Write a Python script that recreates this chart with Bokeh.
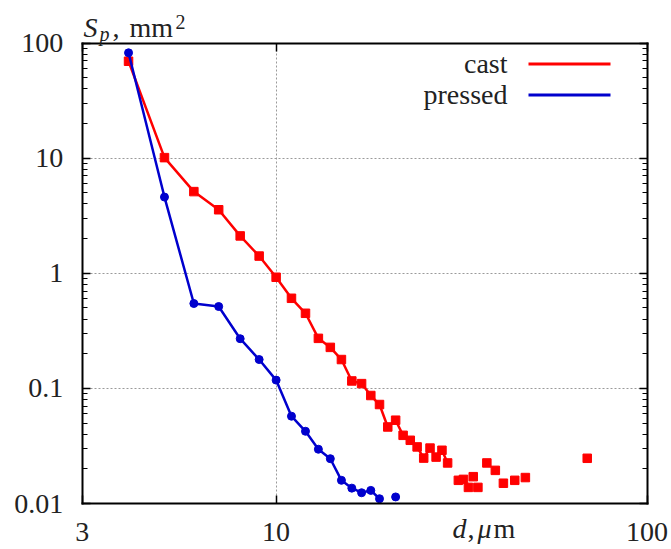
import math
from bokeh.plotting import figure
from bokeh.models import LogAxis, FixedTicker, Label, Arrow, Grid
from bokeh.embed import file_html
from bokeh.resources import INLINE

# ---------------- data ----------------
cast_d = [4, 5, 6, 7, 8, 9, 10, 11, 12, 13, 14, 15, 16, 17, 18, 19, 20, 21, 22, 23,
          24, 25, 26, 27, 28, 29, 31, 32, 33, 34, 35, 37, 39, 41, 44, 47, 69]
cast_S = [69.4, 10.1, 5.12, 3.56, 2.11, 1.41, 0.923, 0.606, 0.449, 0.272, 0.227, 0.178,
          0.116, 0.110, 0.0867, 0.0724, 0.0462, 0.0529, 0.0391, 0.0354, 0.0310, 0.0248,
          0.0303, 0.0253, 0.0290, 0.0225, 0.0159, 0.0162, 0.0138, 0.0171, 0.0138, 0.0225,
          0.0194, 0.0150, 0.0159, 0.0168, 0.0247]
cast_connected = 26          # first points joined by the line

pressed_d = [4, 5, 6, 7, 8, 9, 10, 11, 12, 13, 14, 15, 16, 17, 18, 19, 21]
pressed_S = [82.2, 4.59, 0.546, 0.514, 0.270, 0.178, 0.118, 0.0573, 0.0424, 0.0296,
             0.0245, 0.0159, 0.0136, 0.0124, 0.0130, 0.0110, 0.0114]
pressed_connected = 16

series_names = ["cast", "pressed"]

x_lim = [3, 100]
y_lim = [0.01, 100]
x_ticks = [3, 10, 100]
x_tick_labels = ["3", "10", "100"]
y_ticks = [0.01, 0.1, 1, 10, 100]
y_tick_labels = ["0.01", "0.1", "1", "10", "100"]
y_minor = [m * 10.0 ** e for e in range(-2, 2) for m in range(2, 10)]

# ---------------- style / layout ----------------
RED = "#ff0000"
BLUE = "#0000cd"
TXT = "#222222"
FONT = "Liberation Serif"

W, H = 671, 549
FL, FR, FT, FB = 81.7, 646.5, 42.5, 503   # plot box edges in figure pixels

# the frame fills the whole canvas; ranges are widened so that the plot box
# (x_lim, y_lim) lands at FL..FR / FT..FB
lx0, lx1 = math.log10(x_lim[0]), math.log10(x_lim[1])
ly0, ly1 = math.log10(y_lim[0]), math.log10(y_lim[1])
ppx = (FR - FL) / (lx1 - lx0)
ppy = (FB - FT) / (ly1 - ly0)
xr = (10 ** (lx0 - FL / ppx), 10 ** (lx1 + (W - FR) / ppx))
yr = (10 ** (ly0 - (H - FB) / ppy), 10 ** (ly1 + FT / ppy))

p = figure(width=W, height=H, x_axis_type="log", y_axis_type="log",
           x_range=xr, y_range=yr,
           output_backend="svg", toolbar_location=None,
           min_border=0, min_border_left=0, min_border_right=0,
           min_border_top=0, min_border_bottom=0)
p.title.visible = False
p.background_fill_color = "white"
p.border_fill_color = "white"
p.outline_line_color = None


def style_axis(ax, ticks, minor, loc, bounds, labels_visible):
    ax.ticker = FixedTicker(ticks=ticks, minor_ticks=minor)
    ax.fixed_location = loc
    ax.bounds = tuple(bounds)
    ax.major_tick_in = 8
    ax.major_tick_out = 0
    ax.minor_tick_in = 5 if minor else 0
    ax.minor_tick_out = 0
    ax.axis_line_color = "black"
    ax.axis_line_width = 2
    ax.axis_line_cap = "square"
    ax.major_tick_line_color = "black"
    ax.major_tick_line_width = 1.5
    ax.minor_tick_line_color = "black"
    ax.minor_tick_line_width = 1.2
    if not labels_visible:
        ax.major_label_text_font_size = "2px"
        ax.major_label_text_alpha = 0
        ax.major_label_standoff = 0


xax = p.xaxis[0]
style_axis(xax, x_ticks, [], y_lim[0], x_lim, False)
yax = p.yaxis[0]
style_axis(yax, y_ticks, y_minor, x_lim[0], y_lim, True)
yax.major_label_overrides = {t: l for t, l in zip(y_ticks, y_tick_labels)}
yax.major_label_text_font = FONT
yax.major_label_text_font_size = "28px"
yax.major_label_text_color = TXT
yax.major_label_standoff = 19

rax = LogAxis()
style_axis(rax, y_ticks, y_minor, x_lim[1], y_lim, False)
p.add_layout(rax, "right")
tax = LogAxis()
style_axis(tax, x_ticks, [], y_lim[1], x_lim, False)
p.add_layout(tax, "above")

# dotted grid limited to the plot box
grid_kw = dict(grid_line_color="#9a9a9a", grid_line_dash="2 2", grid_line_width=1)
if "cross_bounds" in Grid.properties():
    p.xgrid.ticker = FixedTicker(ticks=x_ticks)
    p.ygrid.ticker = FixedTicker(ticks=y_ticks)
    p.xgrid.bounds = tuple(x_lim)
    p.ygrid.bounds = tuple(y_lim)
    p.xgrid.cross_bounds = tuple(y_lim)
    p.ygrid.cross_bounds = tuple(x_lim)
    for g in (p.xgrid[0], p.ygrid[0]):
        for k, v in grid_kw.items():
            setattr(g, k, v)
else:
    p.xgrid.visible = False
    p.ygrid.visible = False
    p.segment(x0=x_ticks, x1=x_ticks, y0=[y_lim[0]] * len(x_ticks),
              y1=[y_lim[1]] * len(x_ticks), line_color=grid_kw["grid_line_color"],
              line_dash=grid_kw["grid_line_dash"], line_width=1)
    p.segment(x0=[x_lim[0]] * len(y_ticks), x1=[x_lim[1]] * len(y_ticks),
              y0=y_ticks, y1=y_ticks, line_color=grid_kw["grid_line_color"],
              line_dash=grid_kw["grid_line_dash"], line_width=1)

# ---------------- data glyphs ----------------
p.line(cast_d[:cast_connected], cast_S[:cast_connected], line_color=RED, line_width=2.5)
p.scatter(cast_d, cast_S, marker="square", size=8.5, color=RED)
p.line(pressed_d[:pressed_connected], pressed_S[:pressed_connected],
       line_color=BLUE, line_width=2.5)
p.scatter(pressed_d, pressed_S, marker="circle", size=8, color=BLUE)


# ---------------- texts (page pixel positions, baseline given) ----------------
def page_label(px, base, text, size=28, style="normal", align="left"):
    mid = base - 0.32 * size
    p.add_layout(Label(x=px, y=H - mid, x_units="screen", y_units="screen",
                       text=text, text_font=FONT, text_font_size=f"{size}px",
                       text_font_style=style, text_color=TXT, text_align=align,
                       text_baseline="middle"))


# x tick labels
for t, l in zip(x_ticks, x_tick_labels):
    p.add_layout(Label(x=t, y=H - (540 - 0.32 * 28), x_units="data", y_units="screen",
                       text=l, text_font=FONT, text_font_size="28px", text_color=TXT,
                       text_align="center", text_baseline="middle"))

# y axis title  S_p, mm^2
page_label(83, 36, "S", style="italic")
page_label(99, 39.5, "p", size=20, style="italic")
page_label(112, 36, ",")
page_label(129, 36, "mm")
page_label(175, 28, "2", size=20)

# x axis title  d, μm
page_label(452, 537, "d", style="italic")
page_label(467, 537, ",")
page_label(477, 537, "μ", style="italic")
page_label(493, 537, "m")

# legend
for name, col, base, ly in zip(series_names, [RED, BLUE], [72, 103], [63.5, 94.5]):
    page_label(507, base, name, align="right")
    p.add_layout(Arrow(end=None, x_start=528, y_start=H - ly,
                       x_end=610, y_end=H - ly,
                       start_units="screen", end_units="screen",
                       line_color=col, line_width=3))

open("out.html", "w").write(file_html(p, INLINE))
